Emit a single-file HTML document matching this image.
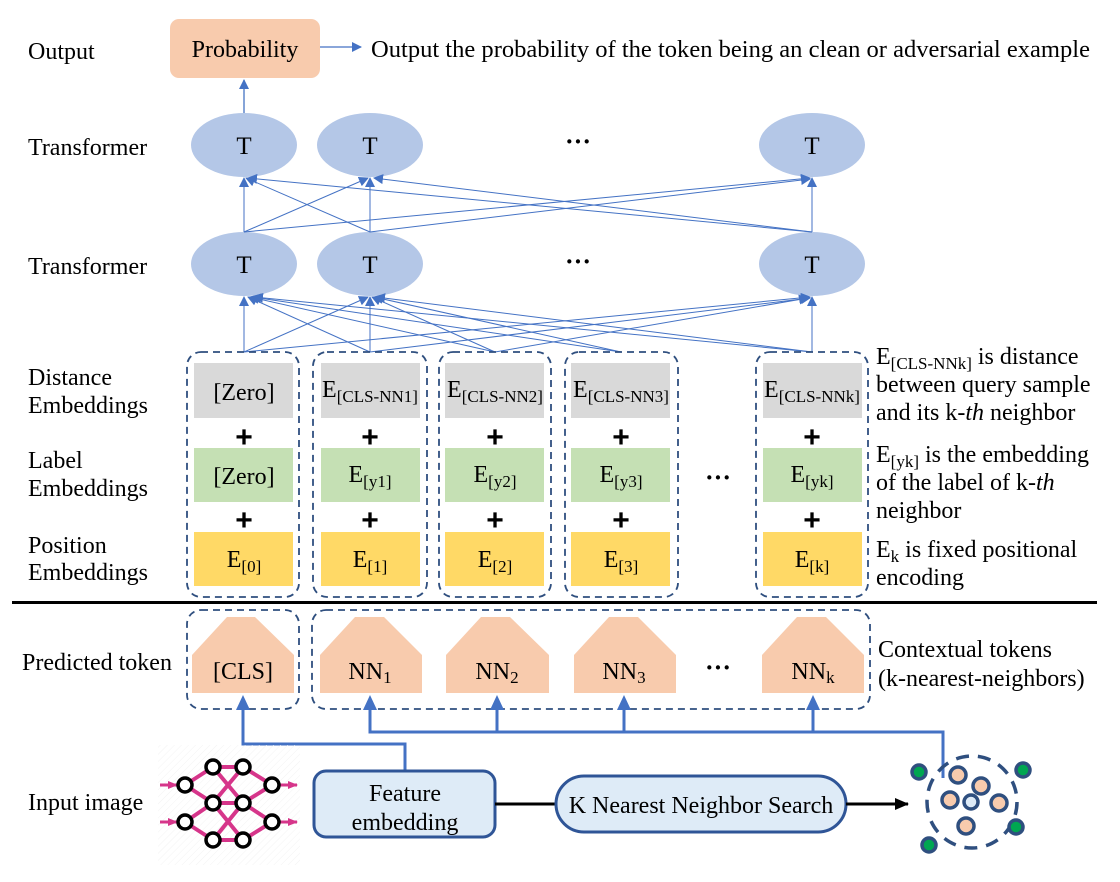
<!DOCTYPE html>
<html><head><meta charset="utf-8"><style>
html,body{margin:0;padding:0;background:#fff}
svg{display:block}
text{font-family:"Liberation Serif",serif;fill:#000}
text.plus{font-family:"Liberation Sans",sans-serif;font-weight:bold}
</style></head><body>
<svg width="1120" height="882" viewBox="0 0 1120 882" xmlns="http://www.w3.org/2000/svg">
<defs>
<marker id="ab" markerWidth="10" markerHeight="10" refX="9" refY="5" orient="auto" markerUnits="userSpaceOnUse"><path d="M0,0 L10,5 L0,10 z" fill="#4472c4"/></marker>
<marker id="ak" markerWidth="14" markerHeight="14" refX="13" refY="7" orient="auto" markerUnits="userSpaceOnUse"><path d="M0,1 L14,7 L0,13 z" fill="#000"/></marker>
<marker id="am" markerWidth="10" markerHeight="10" refX="9" refY="5" orient="auto" markerUnits="userSpaceOnUse"><path d="M0,1 L10,5 L0,9 z" fill="#d6358a"/></marker>
<pattern id="hatch" width="5" height="5" patternUnits="userSpaceOnUse" patternTransform="rotate(45)"><line x1="0" y1="0" x2="0" y2="5" stroke="#f3f3f3" stroke-width="1"/></pattern>
</defs>

<!-- left labels -->
<g font-size="24">
<text x="28" y="59">Output</text>
<text x="28" y="155">Transformer</text>
<text x="28" y="274">Transformer</text>
<text x="28" y="385">Distance</text><text x="28" y="413">Embeddings</text>
<text x="28" y="468">Label</text><text x="28" y="496">Embeddings</text>
<text x="28" y="553">Position</text><text x="28" y="580">Embeddings</text>
<text x="22" y="670">Predicted token</text>
<text x="28" y="810">Input image</text>
</g>

<!-- output -->
<rect x="170" y="19" width="150" height="59" rx="9" fill="#f8cbad"/>
<text x="245" y="57" font-size="24" text-anchor="middle">Probability</text>
<line x1="320" y1="47" x2="361" y2="47" stroke="#4472c4" stroke-width="1.3" marker-end="url(#ab)"/>
<text x="371" y="57" font-size="24" textLength="719" lengthAdjust="spacingAndGlyphs">Output the probability of the token being an clean or adversarial example</text>
<line x1="244" y1="113" x2="244" y2="80" stroke="#4472c4" stroke-width="1.3" marker-end="url(#ab)"/>

<!-- transformer rows -->
<g fill="#b4c7e7">
<ellipse cx="244" cy="145" rx="53" ry="32"/><ellipse cx="370" cy="145" rx="53" ry="32"/><ellipse cx="812" cy="145" rx="53" ry="32"/>
<ellipse cx="244" cy="264" rx="53" ry="32"/><ellipse cx="370" cy="264" rx="53" ry="32"/><ellipse cx="812" cy="264" rx="53" ry="32"/>
</g>
<g font-size="25" text-anchor="middle">
<text x="244" y="154">T</text><text x="370" y="154">T</text><text x="812" y="154">T</text>
<text x="244" y="273">T</text><text x="370" y="273">T</text><text x="812" y="273">T</text>
</g>
<g font-size="26" font-weight="bold" text-anchor="middle">
<text x="578" y="150">···</text><text x="578" y="270">···</text>
<text x="718" y="486">···</text><text x="718" y="676">···</text>
</g>

<!-- T2 -> T1 connections -->
<g stroke="#4472c4" stroke-width="1" fill="none" marker-end="url(#ab)">
<line x1="244" y1="232" x2="244" y2="178"/><line x1="244" y1="232" x2="368" y2="178"/><line x1="244" y1="232" x2="810" y2="178"/>
<line x1="370" y1="232" x2="246" y2="178"/><line x1="370" y1="232" x2="370" y2="178"/><line x1="370" y1="232" x2="810" y2="179"/>
<line x1="812" y1="232" x2="248" y2="178"/><line x1="812" y1="232" x2="374" y2="178"/><line x1="812" y1="232" x2="812" y2="178"/>
</g>

<!-- emb -> T2 connections -->
<g stroke="#4472c4" stroke-width="1" fill="none" marker-end="url(#ab)">
<line x1="244" y1="352" x2="244" y2="297"/><line x1="244" y1="352" x2="368" y2="297"/><line x1="244" y1="352" x2="810" y2="297"/>
<line x1="370" y1="352" x2="248" y2="297"/><line x1="370" y1="352" x2="370" y2="297"/><line x1="370" y1="352" x2="810" y2="298"/>
<line x1="495" y1="352" x2="250" y2="297"/><line x1="495" y1="352" x2="372" y2="297"/><line x1="495" y1="352" x2="808" y2="298"/>
<line x1="621" y1="352" x2="252" y2="297"/><line x1="621" y1="352" x2="374" y2="297"/>
<line x1="812" y1="352" x2="254" y2="297"/><line x1="812" y1="352" x2="376" y2="297"/><line x1="812" y1="352" x2="812" y2="297"/>
</g>

<!-- embedding columns -->
<g fill="none" stroke="#2f4f7f" stroke-width="1.8" stroke-dasharray="7,5">
<rect x="187" y="352" width="112" height="245" rx="14"/>
<rect x="313" y="352" width="114" height="245" rx="14"/>
<rect x="439" y="352" width="112" height="245" rx="14"/>
<rect x="565" y="352" width="113" height="245" rx="14"/>
<rect x="756" y="352" width="112" height="245" rx="14"/>
</g>
<g fill="#d9d9d9">
<rect x="194" y="363" width="99" height="55"/><rect x="321" y="363" width="99" height="55"/><rect x="445" y="363" width="99" height="55"/><rect x="571" y="363" width="99" height="55"/><rect x="763" y="363" width="99" height="55"/>
</g>
<g fill="#c5e0b4">
<rect x="194" y="448" width="99" height="54"/><rect x="321" y="448" width="99" height="54"/><rect x="445" y="448" width="99" height="54"/><rect x="571" y="448" width="99" height="54"/><rect x="763" y="448" width="99" height="54"/>
</g>
<g fill="#ffd966">
<rect x="194" y="532" width="99" height="54"/><rect x="321" y="532" width="99" height="54"/><rect x="445" y="532" width="99" height="54"/><rect x="571" y="532" width="99" height="54"/><rect x="763" y="532" width="99" height="54"/>
</g>
<g font-size="24" text-anchor="middle">
<text x="244" y="400">[Zero]</text>
<text x="370" y="397">E<tspan font-size="17" dy="5">[CLS-NN1]</tspan></text>
<text x="495" y="397">E<tspan font-size="17" dy="5">[CLS-NN2]</tspan></text>
<text x="621" y="397">E<tspan font-size="17" dy="5">[CLS-NN3]</tspan></text>
<text x="812" y="397">E<tspan font-size="17" dy="5">[CLS-NNk]</tspan></text>
<text x="244" y="484">[Zero]</text>
<text x="370" y="482">E<tspan font-size="17" dy="5">[y1]</tspan></text>
<text x="495" y="482">E<tspan font-size="17" dy="5">[y2]</tspan></text>
<text x="621" y="482">E<tspan font-size="17" dy="5">[y3]</tspan></text>
<text x="812" y="482">E<tspan font-size="17" dy="5">[yk]</tspan></text>
<text x="244" y="567">E<tspan font-size="17" dy="5">[0]</tspan></text>
<text x="370" y="567">E<tspan font-size="17" dy="5">[1]</tspan></text>
<text x="495" y="567">E<tspan font-size="17" dy="5">[2]</tspan></text>
<text x="621" y="567">E<tspan font-size="17" dy="5">[3]</tspan></text>
<text x="812" y="567">E<tspan font-size="17" dy="5">[k]</tspan></text>
</g>
<g font-size="30" text-anchor="middle">
<text class="plus" x="244" y="447">+</text><text class="plus" x="370" y="447">+</text><text class="plus" x="495" y="447">+</text><text class="plus" x="621" y="447">+</text><text class="plus" x="812" y="447">+</text>
<text class="plus" x="244" y="530">+</text><text class="plus" x="370" y="530">+</text><text class="plus" x="495" y="530">+</text><text class="plus" x="621" y="530">+</text><text class="plus" x="812" y="530">+</text>
</g>

<!-- right notes -->
<g font-size="24">
<text x="876" y="364">E<tspan font-size="17" dy="5">[CLS-NNk]</tspan><tspan dy="-5"> is distance</tspan></text>
<text x="876" y="392">between query sample</text>
<text x="876" y="420">and its k-<tspan font-style="italic">th</tspan> neighbor</text>
<text x="876" y="462">E<tspan font-size="17" dy="5">[yk]</tspan><tspan dy="-5"> is the embedding</tspan></text>
<text x="876" y="490">of the label of k-<tspan font-style="italic">th</tspan></text>
<text x="876" y="518">neighbor</text>
<text x="876" y="557">E<tspan font-size="17" dy="5">k</tspan><tspan dy="-5"> is fixed positional</tspan></text>
<text x="876" y="585">encoding</text>
</g>

<!-- separator -->
<rect x="12" y="601" width="1085" height="3" fill="#000"/>

<!-- predicted tokens -->
<g fill="none" stroke="#2f4f7f" stroke-width="1.8" stroke-dasharray="7,5">
<rect x="187" y="610" width="112" height="99" rx="14"/>
<rect x="312" y="610" width="558" height="99" rx="14"/>
</g>
<g fill="#f8cbad">
<polygon points="192,655 227,617 255,617 294,655 294,693 192,693"/>
<polygon points="320,655 355,617 384,617 422,655 422,693 320,693"/>
<polygon points="446,655 481,617 510,617 549,655 549,693 446,693"/>
<polygon points="574,655 609,617 638,617 676,655 676,693 574,693"/>
<polygon points="762,655 797,617 826,617 864,655 864,693 762,693"/>
</g>
<g font-size="24" text-anchor="middle">
<text x="243" y="679">[CLS]</text>
<text x="370" y="679">NN<tspan font-size="17" dy="4">1</tspan></text>
<text x="497" y="679">NN<tspan font-size="17" dy="4">2</tspan></text>
<text x="624" y="679">NN<tspan font-size="17" dy="4">3</tspan></text>
<text x="813" y="679">NN<tspan font-size="17" dy="4">k</tspan></text>
</g>
<text x="878" y="657" font-size="24">Contextual tokens</text>
<text x="878" y="686" font-size="24">(k-nearest-neighbors)</text>

<!-- blue connectors -->
<g stroke="#4472c4" stroke-width="3" fill="none">
<polyline points="405,771 405,744 243,744 243,708"/>
<polyline points="943,778 943,732 370,732 370,708"/>
<line x1="497" y1="732" x2="497" y2="708"/>
<line x1="624" y1="732" x2="624" y2="708"/>
<line x1="813" y1="732" x2="813" y2="708"/>
</g>
<g fill="#4472c4">
<path d="M236,710 L243,695 L250,710z"/>
<path d="M363,710 L370,695 L377,710z"/>
<path d="M490,710 L497,695 L504,710z"/>
<path d="M617,710 L624,695 L631,710z"/>
<path d="M806,710 L813,695 L820,710z"/>
</g>

<!-- input image icon -->
<rect x="158" y="745" width="142" height="120" fill="url(#hatch)"/>
<g stroke="#d6358a" stroke-width="4" fill="none">
<line x1="185" y1="785" x2="213" y2="767"/><line x1="185" y1="785" x2="213" y2="803"/>
<line x1="185" y1="822" x2="213" y2="803"/><line x1="185" y1="822" x2="213" y2="840"/>
<line x1="213" y1="767" x2="243" y2="767"/><line x1="213" y1="767" x2="243" y2="803"/>
<line x1="213" y1="803" x2="243" y2="767"/><line x1="213" y1="803" x2="243" y2="803"/><line x1="213" y1="803" x2="243" y2="840"/>
<line x1="213" y1="840" x2="243" y2="803"/><line x1="213" y1="840" x2="243" y2="840"/>
<line x1="243" y1="767" x2="272" y2="785"/><line x1="243" y1="803" x2="272" y2="785"/>
<line x1="243" y1="803" x2="272" y2="822"/><line x1="243" y1="840" x2="272" y2="822"/>
</g>
<g stroke="#d6358a" stroke-width="3" marker-end="url(#am)">
<line x1="160" y1="785" x2="177" y2="785"/><line x1="160" y1="822" x2="177" y2="822"/>
<line x1="280" y1="785" x2="297" y2="785"/><line x1="280" y1="822" x2="297" y2="822"/>
</g>
<g fill="#fff" stroke="#000" stroke-width="3.5">
<circle cx="185" cy="785" r="7"/><circle cx="185" cy="822" r="7"/>
<circle cx="213" cy="767" r="7"/><circle cx="213" cy="803" r="7"/><circle cx="213" cy="840" r="7"/>
<circle cx="243" cy="767" r="7"/><circle cx="243" cy="803" r="7"/><circle cx="243" cy="840" r="7"/>
<circle cx="272" cy="785" r="7"/><circle cx="272" cy="822" r="7"/>
</g>

<!-- feature embedding -->
<rect x="314" y="771" width="181" height="66" rx="12" fill="#deebf7" stroke="#2f5597" stroke-width="3"/>
<text x="405" y="801" font-size="24" text-anchor="middle">Feature</text>
<text x="405" y="830" font-size="24" text-anchor="middle">embedding</text>
<line x1="495" y1="804" x2="556" y2="804" stroke="#000" stroke-width="3"/>
<rect x="556" y="776" width="290" height="56" rx="28" fill="#deebf7" stroke="#2f5597" stroke-width="3"/>
<text x="701" y="813" font-size="24" text-anchor="middle">K Nearest Neighbor Search</text>
<line x1="846" y1="804" x2="908" y2="804" stroke="#000" stroke-width="3" marker-end="url(#ak)"/>

<!-- cluster -->
<ellipse cx="972" cy="802" rx="45" ry="46" fill="none" stroke="#2f4f7f" stroke-width="3.5" stroke-dasharray="13,9"/>
<g stroke="#2f4f7f" stroke-width="3.5">
<circle cx="919" cy="772" r="7" fill="#00a651"/>
<circle cx="1023" cy="770" r="7" fill="#00a651"/>
<circle cx="1016" cy="827" r="7" fill="#00a651"/>
<circle cx="929" cy="845" r="7" fill="#00a651"/>
<circle cx="958" cy="775" r="8" fill="#f8cbad"/>
<circle cx="981" cy="786" r="8" fill="#f8cbad"/>
<circle cx="950" cy="800" r="8" fill="#f8cbad"/>
<circle cx="971" cy="802" r="7" fill="#deebf7"/>
<circle cx="999" cy="803" r="8" fill="#f8cbad"/>
<circle cx="966" cy="826" r="8" fill="#f8cbad"/>
</g>
</svg>
</body></html>
